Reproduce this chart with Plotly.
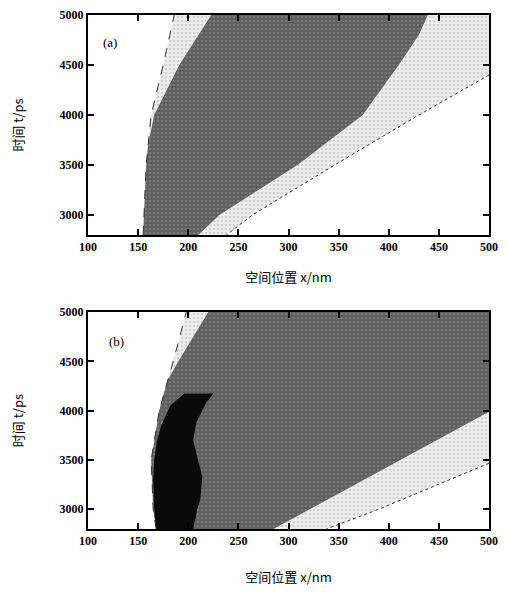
import plotly.graph_objects as go
from plotly.subplots import make_subplots

# ---------- data ----------
x_ticks = [100, 150, 200, 250, 300, 350, 400, 450, 500]
t_ticks = [3000, 3500, 4000, 4500, 5000]

# panel (a)
a_outer_left_t = [2800, 3000, 3500, 4000, 4500, 5000]
a_outer_left_x = [155, 156, 158, 163, 175, 186]
a_outer_right_t = [4400, 4000, 3500, 3000, 2800]
a_outer_right_x = [500, 430, 346, 264, 238]
a_dark_left_t = [2800, 3000, 3500, 3700, 4000, 4500, 5000]
a_dark_left_x = [155, 156, 158, 160, 166, 191, 223]
a_dark_right_t = [5000, 4800, 4500, 4000, 3500, 3000, 2800]
a_dark_right_x = [439, 430, 410, 374, 309, 231, 210]

# panel (b)
b_outer_left_t = [2800, 3000, 3500, 4000, 4500, 5000]
b_outer_left_x = [168, 165, 163, 171, 185, 198]
b_outer_right_t = [3467, 3000, 2800]
b_outer_right_x = [500, 390, 338]
b_dark_left_t = [2800, 3000, 3500, 4000, 4300, 4500, 5000]
b_dark_left_x = [168, 165, 163, 171, 179, 190, 220]
b_dark_right_t = [3990, 3500, 3000, 2800]
b_dark_right_x = [500, 411, 321, 285]
b_black_t = [2800, 3000, 3300, 3500, 3700, 3850, 4050, 4175,
             4175, 4080, 3880, 3700, 3530, 3330, 3100, 3000, 2800]
b_black_x = [168, 166, 165, 166, 169, 173, 182, 196,
             225, 218, 208, 205, 209, 214, 212, 209, 205]

T_MIN, T_MAX = 2800, 5000
X_MIN, X_MAX = 100, 500

DARK = dict(shape=".", bgcolor="#5e5e5e", fgcolor="#909090", size=4, solidity=0.35)
LIGHT = dict(shape=".", bgcolor="#eeeeee", fgcolor="#b4b4b4", size=4, solidity=0.35)

fig = make_subplots(rows=2, cols=1)


def poly(xs, ts, pattern, color, row):
    fig.add_trace(go.Scatter(x=xs, y=ts, mode="lines", fill="toself",
                             fillcolor=color, fillpattern=pattern,
                             line=dict(width=0, color=color),
                             hoverinfo="skip", showlegend=False),
                  row=row, col=1)


def line(xs, ts, dash, row, width=1):
    fig.add_trace(go.Scatter(x=xs, y=ts, mode="lines",
                             line=dict(color="#333333", width=width, dash=dash),
                             hoverinfo="skip", showlegend=False),
                  row=row, col=1)


# ---- panel (a) ----
light_a_x = a_outer_left_x + [X_MAX] + a_outer_right_x
light_a_t = a_outer_left_t + [T_MAX] + a_outer_right_t
poly(light_a_x, light_a_t, LIGHT, "#dcdcdc", 1)
dark_a_x = a_dark_left_x + a_dark_right_x
dark_a_t = a_dark_left_t + a_dark_right_t
poly(dark_a_x, dark_a_t, DARK, "#666666", 1)
line(a_outer_left_x, a_outer_left_t, "dash", 1)
line(a_outer_right_x, a_outer_right_t, "dot", 1)

# ---- panel (b) ----
light_b_x = b_outer_left_x + [X_MAX] + b_outer_right_x
light_b_t = b_outer_left_t + [T_MAX] + b_outer_right_t
poly(light_b_x, light_b_t, LIGHT, "#dcdcdc", 2)
dark_b_x = b_dark_left_x + [X_MAX] + b_dark_right_x
dark_b_t = b_dark_left_t + [T_MAX] + b_dark_right_t
poly(dark_b_x, dark_b_t, DARK, "#666666", 2)
fig.add_trace(go.Scatter(x=b_black_x, y=b_black_t, mode="lines", fill="toself",
                         fillcolor="#0a0a0a", line=dict(width=0, color="#0a0a0a"),
                         hoverinfo="skip", showlegend=False), row=2, col=1)
line(b_outer_left_x, b_outer_left_t, "dash", 2)
line(b_outer_right_x, b_outer_right_t, "dot", 2)

tick_font = dict(family="Liberation Serif", size=12, color="black", weight="bold")
title_font = dict(family="Noto Sans CJK SC", size=13, color="black")

axis_common = dict(showline=True, linecolor="black", linewidth=2, mirror="ticks",
                   ticks="inside", ticklen=6, tickwidth=1.5, tickcolor="black",
                   showgrid=False, zeroline=False, tickfont=tick_font,
                   layer="above traces", automargin=False)

for r, xs in ((1, 20), (2, 25)):
    fig.update_xaxes(range=[X_MIN, X_MAX], tickvals=x_ticks,
                     ticktext=[str(v) for v in x_ticks],
                     title=dict(text="空间位置 x/nm", font=title_font, standoff=xs),
                     row=r, col=1, **axis_common)
    fig.update_yaxes(range=[T_MIN, T_MAX], tickvals=t_ticks,
                     ticktext=[str(v) for v in t_ticks],
                     title=dict(text="时间 t/ps", font=title_font, standoff=33),
                     row=r, col=1, **axis_common)

fig.update_layout(
    width=506, height=593,
    margin=dict(l=88, r=17, t=15, b=64),
    plot_bgcolor="white", paper_bgcolor="white",
    yaxis=dict(domain=[0.572, 1.0]),
    yaxis2=dict(domain=[0.0, 0.422]),
    annotations=[
        dict(text="(a)", x=122, y=4730, xref="x", yref="y", showarrow=False,
             font=dict(family="Liberation Serif", size=13, color="black")),
        dict(text="(b)", x=128, y=4700, xref="x2", yref="y2", showarrow=False,
             font=dict(family="Liberation Serif", size=13, color="black")),
    ],
)

fig.write_html("out.html", config={"displayModeBar": False},
               post_script="document.body.style.margin='0';document.body.style.overflow='hidden';")
